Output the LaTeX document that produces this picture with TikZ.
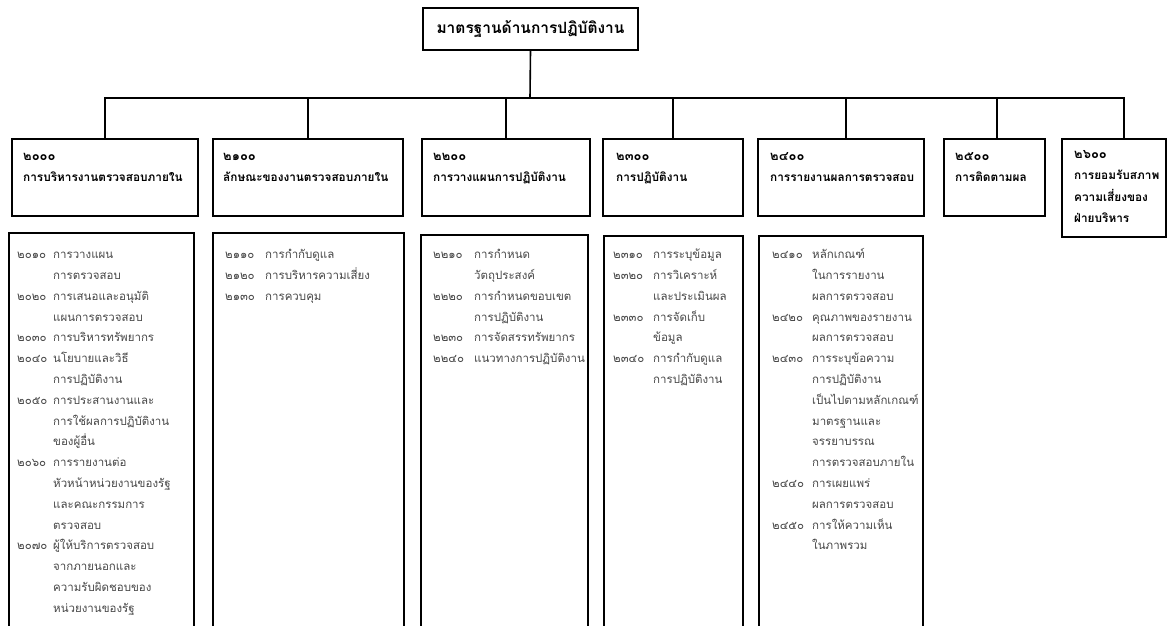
\documentclass[tikz,border=0pt]{standalone}
\usepackage{fontspec}
\setmainfont{Loma}[Script=Thai]
\newlength\dnumw
\newcommand\dnum[1]{\makebox[\dnumw][l]{#1}}
\newcommand\dcont{\hspace*{\dnumw}}
\newcommand\setnumw[1]{\global\dnumw=#1\relax}
\begin{document}
\begin{tikzpicture}[x=1pt,y=-1pt,
  frame/.style={draw=black, line width=1.6pt, rectangle, inner sep=0pt},
  conn/.style={draw=black, line width=1.6pt},
  hlabel/.style={anchor=north west, inner sep=0pt, align=left, font=\fontsize{11.8}{21}\selectfont\bfseries},
  dlabel/.style={anchor=north west, inner sep=0pt, align=left, text=black!72, font=\fontsize{11.5}{20.8}\selectfont},
]
\useasboundingbox (0,0) rectangle (1168,626);
\clip (0,0) rectangle (1168,626);

% top box
\node[frame, minimum width=215, minimum height=42, font=\fontsize{15.5}{18}\selectfont\bfseries] (top) at (530.5,29) {มาตรฐานด้านการปฏิบัติงาน};

% header boxes
\node[frame, minimum width=186, minimum height=77] (h2000) at (105,177.5) {};
\node[frame, minimum width=190, minimum height=77] (h2100) at (308,177.5) {};
\node[frame, minimum width=168, minimum height=77] (h2200) at (506,177.5) {};
\node[frame, minimum width=140, minimum height=77] (h2300) at (673,177.5) {};
\node[frame, minimum width=166, minimum height=77] (h2400) at (841,177.5) {};
\node[frame, minimum width=101, minimum height=77] (h2500) at (994.5,177.5) {};
\node[frame, minimum width=104, minimum height=98] (h2600) at (1114,188) {};

% connectors
\coordinate (bus) at (530,98);
\draw[conn] (top.south) -- (bus);
\foreach \n/\s in {2000/0,2100/0,2200/0,2300/0,2400/5,2500/2.5,2600/10}
  \draw[conn] (bus) -| ([xshift=\s pt]h\n.north);

% header labels
\newcommand\hn[1]{{\fontsize{13}{21}\selectfont #1}}
\node[hlabel] (t2000) at (23,146) {\strut\hn{๒๐๐๐}\\การบริหารงานตรวจสอบภายใน};
\node[hlabel] (t2100) at (223,146) {\strut\hn{๒๑๐๐}\\ลักษณะของงานตรวจสอบภายใน};
\node[hlabel] (t2200) at (433,146) {\strut\hn{๒๒๐๐}\\การวางแผนการปฏิบัติงาน};
\node[hlabel] (t2300) at (616,146) {\strut\hn{๒๓๐๐}\\การปฏิบัติงาน};
\node[hlabel] (t2400) at (770,146) {\strut\hn{๒๔๐๐}\\การรายงานผลการตรวจสอบ};
\node[hlabel] (t2500) at (955,146) {\strut\hn{๒๕๐๐}\\การติดตามผล};
\node[hlabel, font=\fontsize{11.8}{21.5}\selectfont\bfseries] (t2600) at (1074,143) {\strut\hn{๒๖๐๐}\\การยอมรับสภาพ\\ความเสี่ยงของ\\ฝ่ายบริหาร};

% detail boxes
\node[frame, minimum width=185, minimum height=407] (d2000) at (101.5,436.5) {};
\node[frame, minimum width=191, minimum height=407] (d2100) at (308.5,436.5) {};
\node[frame, minimum width=167, minimum height=405] (d2200) at (504.5,437.5) {};
\node[frame, minimum width=139, minimum height=404] (d2300) at (673.5,438) {};
\node[frame, minimum width=164, minimum height=404] (d2400) at (841,438) {};

% detail labels
\setnumw{36pt}
\node[dlabel] (l2000) at (17,244) {\strut
\dnum{๒๐๑๐}การวางแผน\\\dcont การตรวจสอบ\\
\dnum{๒๐๒๐}การเสนอและอนุมัติ\\\dcont แผนการตรวจสอบ\\
\dnum{๒๐๓๐}การบริหารทรัพยากร\\
\dnum{๒๐๔๐}นโยบายและวิธี\\\dcont การปฏิบัติงาน\\
\dnum{๒๐๕๐}การประสานงานและ\\\dcont การใช้ผลการปฏิบัติงาน\\\dcont ของผู้อื่น\\
\dnum{๒๐๖๐}การรายงานต่อ\\\dcont หัวหน้าหน่วยงานของรัฐ\\\dcont และคณะกรรมการ\\\dcont ตรวจสอบ\\
\dnum{๒๐๗๐}ผู้ให้บริการตรวจสอบ\\\dcont จากภายนอกและ\\\dcont ความรับผิดชอบของ\\\dcont หน่วยงานของรัฐ};

\setnumw{40pt}
\node[dlabel] (l2100) at (225,244) {\strut
\dnum{๒๑๑๐}การกำกับดูแล\\
\dnum{๒๑๒๐}การบริหารความเสี่ยง\\
\dnum{๒๑๓๐}การควบคุม};

\setnumw{41pt}
\node[dlabel] (l2200) at (433,244) {\strut
\dnum{๒๒๑๐}การกำหนด\\\dcont วัตถุประสงค์\\
\dnum{๒๒๒๐}การกำหนดขอบเขต\\\dcont การปฏิบัติงาน\\
\dnum{๒๒๓๐}การจัดสรรทรัพยากร\\
\dnum{๒๒๔๐}แนวทางการปฏิบัติงาน};

\setnumw{40pt}
\node[dlabel] (l2300) at (613,244) {\strut
\dnum{๒๓๑๐}การระบุข้อมูล\\
\dnum{๒๓๒๐}การวิเคราะห์\\\dcont และประเมินผล\\
\dnum{๒๓๓๐}การจัดเก็บ\\\dcont ข้อมูล\\
\dnum{๒๓๔๐}การกำกับดูแล\\\dcont การปฏิบัติงาน};

\setnumw{40pt}
\node[dlabel] (l2400) at (772,244) {\strut
\dnum{๒๔๑๐}หลักเกณฑ์\\\dcont ในการรายงาน\\\dcont ผลการตรวจสอบ\\
\dnum{๒๔๒๐}คุณภาพของรายงาน\\\dcont ผลการตรวจสอบ\\
\dnum{๒๔๓๐}การระบุข้อความ\\\dcont การปฏิบัติงาน\\\dcont เป็นไปตามหลักเกณฑ์\\\dcont มาตรฐานและ\\\dcont จรรยาบรรณ\\\dcont การตรวจสอบภายใน\\
\dnum{๒๔๔๐}การเผยแพร่\\\dcont ผลการตรวจสอบ\\
\dnum{๒๔๕๐}การให้ความเห็น\\\dcont ในภาพรวม};
\end{tikzpicture}
\end{document}
